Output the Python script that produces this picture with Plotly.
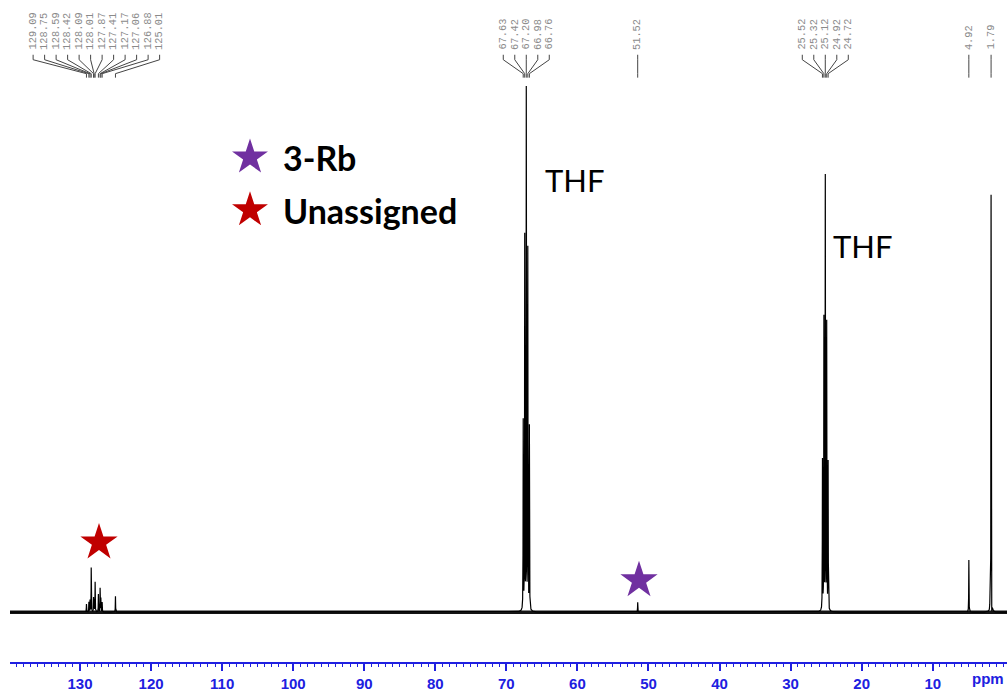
import numpy as np
import plotly.graph_objects as go

# ---------------- data ----------------
aromatic_ppm = [129.09, 128.75, 128.59, 128.42, 128.09, 128.01, 127.87, 127.41, 127.17, 127.06, 126.88, 125.01]
aromatic_int = [8, 10, 12, 45, 14, 12, 30, 18, 24, 14, 10, 16]
thf_a_ppm = [67.63, 67.42, 67.20, 66.98, 66.76]
thf_a_int = [190, 378, 527, 365, 186]
rb_ppm = [51.52]
rb_int = [10]
thf_b_ppm = [25.52, 25.32, 25.12, 24.92, 24.72]
thf_b_int = [152, 295, 438, 290, 150]
high_ppm = [4.92, 1.79]
high_int = [53, 420]
artifact_ppm = [1.95, 1.70]
artifact_int = [8, -18]

tick_vals = [130, 120, 110, 100, 90, 80, 70, 60, 50, 40, 30, 20, 10]
tick_text = [str(v) for v in tick_vals]

label_groups = [aromatic_ppm, thf_a_ppm, rb_ppm, thf_b_ppm, high_ppm[:1], high_ppm[1:]]

legend_names = ["3-Rb", "Unassigned"]
legend_colors = ["#7030A0", "#C00000"]
solvent_label = "THF"

# ---------------- geometry helpers ----------------
W, H = 1007, 692
ML, MB = 10, 27
X_LEFT, X_RIGHT = 139.85, -0.45
PX_PER_PPM = (W - ML) / (X_LEFT - X_RIGHT)
Y_TOP = 615          # y value at the top of the plot area (1 unit = 1 px)
Y_BOTTOM = -50


def px2ppm(px):
    return X_LEFT - (px - ML) / PX_PER_PPM


def py2y(py):
    return Y_TOP - py


def py2paper(py):
    return (py2y(py) - Y_BOTTOM) / (Y_TOP - Y_BOTTOM)


# ---------------- spectrum ----------------
all_ppm = aromatic_ppm + thf_a_ppm + rb_ppm + thf_b_ppm + high_ppm + artifact_ppm
all_int = aromatic_int + thf_a_int + rb_int + thf_b_int + high_int + artifact_int
gamma = 0.02
x = np.arange(X_LEFT, X_RIGHT, -0.004)
y = np.zeros_like(x)
for p, h in zip(all_ppm, all_int):
    y += h * gamma**2 / ((x - p) ** 2 + gamma**2)

fig = go.Figure()
# baseline noise band
fig.add_trace(go.Scatter(x=[X_LEFT, X_RIGHT], y=[0, 0], mode="lines",
                         line=dict(color="#151515", width=3.5), hoverinfo="skip", showlegend=False))
fig.add_trace(go.Scatter(x=x, y=y, mode="lines", line=dict(color="black", width=1.2),
                         hoverinfo="skip", showlegend=False))

# ---------------- peak labels with leader lines ----------------
LABEL_SPACING = 11.5 / PX_PER_PPM
shapes = []
annotations = []
for grp in label_groups:
    n = len(grp)
    centre = float(np.mean(grp))
    lx = [centre - (i - (n - 1) / 2) * LABEL_SPACING for i in range(n)]
    for p, l in zip(grp, lx):
        annotations.append(dict(x=l, y=py2y(52), xref="x", yref="y", text=f"{p:.2f}",
                                textangle=-90, showarrow=False, xanchor="center", yanchor="bottom",
                                font=dict(family="Liberation Mono", size=10.3, color="#8a8a8a")))
        path = (f"M {l},{py2y(55)} L {l},{py2y(60)} L {p},{py2y(74)} L {p},{py2y(78)}")
        shapes.append(dict(type="path", path=path, xref="x", yref="y",
                           line=dict(color="#444444", width=1)))

# ---------------- stars & legend ----------------
star_x = [px2ppm(99), px2ppm(639)]
star_y = [py2y(545), py2y(583)]
fig.add_trace(go.Scatter(x=star_x, y=star_y, mode="markers",
                         marker=dict(symbol="star", size=28, color=[legend_colors[1], legend_colors[0]],
                                     line=dict(width=0)),
                         hoverinfo="skip", showlegend=False))
leg_y = [py2y(158), py2y(211)]
fig.add_trace(go.Scatter(x=[px2ppm(250)] * 2, y=leg_y, mode="markers",
                         marker=dict(symbol="star", size=27, color=legend_colors, line=dict(width=0)),
                         hoverinfo="skip", showlegend=False))
for name, ly in zip(legend_names, leg_y):
    annotations.append(dict(x=px2ppm(281), y=ly, xref="x", yref="y", text=f"<b>{name}</b>",
                            showarrow=False, xanchor="left", yanchor="middle",
                            font=dict(family="Lato", size=34, color="black")))

annotations.append(dict(x=px2ppm(543), y=py2y(181), xref="x", yref="y", text=solvent_label,
                        showarrow=False, xanchor="left", yanchor="middle",
                        font=dict(family="Lato", size=31, color="black")))
annotations.append(dict(x=px2ppm(831), y=py2y(247), xref="x", yref="y", text=solvent_label,
                        showarrow=False, xanchor="left", yanchor="middle",
                        font=dict(family="Lato", size=31, color="black")))

BLUE = "#2020E0"
annotations.append(dict(x=px2ppm(988), y=py2paper(682), xref="x", yref="paper", text="<b>ppm</b>",
                        showarrow=False, xanchor="center", yanchor="middle",
                        font=dict(family="Liberation Sans", size=15, color=BLUE)))

fig.update_layout(
    width=W, height=H,
    margin=dict(l=ML, r=0, t=0, b=MB),
    paper_bgcolor="white", plot_bgcolor="white",
    shapes=shapes, annotations=annotations,
    xaxis=dict(range=[X_LEFT, X_RIGHT], showgrid=False, zeroline=False,
               showline=True, linecolor=BLUE, linewidth=1.5,
               ticks="outside", ticklen=7, tickwidth=1.5, tickcolor=BLUE,
               tickvals=tick_vals, ticktext=tick_text,
               tickfont=dict(family="Liberation Sans", size=15, color=BLUE, weight="bold"),
               minor=dict(dtick=1, tick0=0, ticks="outside", ticklen=3, tickwidth=1, tickcolor=BLUE)),
    yaxis=dict(range=[Y_BOTTOM, Y_TOP], visible=False, showgrid=False, zeroline=False),
)

fig.write_html("out.html")
